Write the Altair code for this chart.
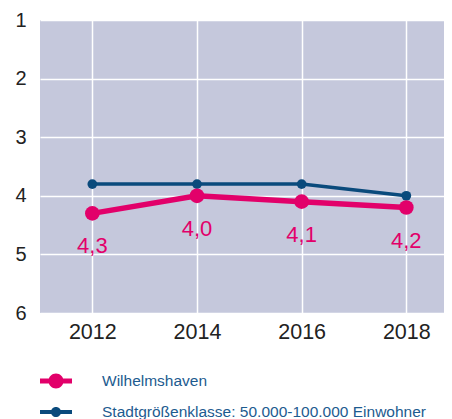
import altair as alt
import pandas as pd

years = [2012, 2014, 2016, 2018]
wilhelmshaven = [4.3, 4.0, 4.1, 4.2]
stadtgroesse = [3.8, 3.8, 3.8, 4.0]
name_w = "Wilhelmshaven"
name_s = "Stadtgrößenklasse: 50.000-100.000 Einwohner"
y_ticks = [1, 2, 3, 4, 5, 6]

PINK = "#e2006a"
BLUE = "#0a4a7c"

df_w = pd.DataFrame({"year": years, "value": wilhelmshaven, "series": name_w})
df_s = pd.DataFrame({"year": years, "value": stadtgroesse, "series": name_s})

x_enc = alt.X(
    "year:Q",
    scale=alt.Scale(domain=[2011, 2018.72], nice=False, zero=False),
    axis=alt.Axis(values=years, format="d", title=None, domain=False, ticks=False,
                  labelFontSize=21.5, labelColor="#222222", labelPadding=8,
                  labelFont="Liberation Sans", gridColor="white", gridWidth=1.5),
)
y_enc = alt.Y(
    "value:Q",
    scale=alt.Scale(domain=[1, 6], reverse=True, nice=False, zero=False),
    axis=alt.Axis(values=y_ticks, format="d", title=None, domain=False, ticks=False,
                  labelFontSize=20, labelColor="#222222", labelPadding=14,
                  labelFont="Liberation Sans", gridColor="white", gridWidth=1.5),
)

path_w = "M-1,-0.16H1V0.16H-1Z M0.47,0A0.47,0.47,0,1,1,-0.47,0A0.47,0.47,0,1,1,0.47,0Z"
path_s = "M-1,-0.12H1V0.12H-1Z M0.32,0A0.32,0.32,0,1,1,-0.32,0A0.32,0.32,0,1,1,0.32,0Z"


def legend(path, color, y):
    return alt.Legend(
        title=None, orient="none", legendX=0, legendY=y, padding=0,
        symbolType=path, symbolSize=1024, symbolFillColor=color,
        symbolStrokeColor=color, symbolStrokeWidth=0, symbolOpacity=1,
        labelFontSize=15.5, labelColor="#1d5b8f", labelFont="Liberation Sans",
        labelOffset=30, labelLimit=400,
    )


blue = alt.Chart(df_s).mark_line(
    strokeWidth=3.5, point=alt.OverlayMarkDef(size=95, filled=True, opacity=1)
).encode(
    x=x_enc, y=y_enc,
    color=alt.Color("series:N", scale=alt.Scale(domain=[name_s], range=[BLUE]),
                    legend=legend(path_s, BLUE, 376)),
)

pink_line = alt.Chart(df_w).mark_line(
    strokeWidth=5.5, point=alt.OverlayMarkDef(size=215, filled=True, opacity=1)
).encode(
    x=x_enc, y=y_enc,
    color=alt.Color("series:N", scale=alt.Scale(domain=[name_w], range=[PINK]),
                    legend=legend(path_w, PINK, 345)),
)

pink_text = alt.Chart(df_w).transform_calculate(
    label="replace(format(datum.value, '.1f'), '.', ',')"
).mark_text(dy=33, fontSize=22, font="Liberation Sans", baseline="middle",
            color=PINK).encode(x="year:Q", y="value:Q", text="label:N")

pink = alt.layer(pink_line, pink_text)

chart = alt.layer(blue, pink).resolve_scale(color="independent").properties(
    width=404, height=293,
    autosize=alt.AutoSizeParams(type="none"),
    padding={"left": 32, "top": 12, "right": 0, "bottom": 106},
    background="white",
).configure_view(fill="#c5c8dc", strokeWidth=0)

chart.save("out.html", embed_options={"renderer": "svg", "actions": False})
